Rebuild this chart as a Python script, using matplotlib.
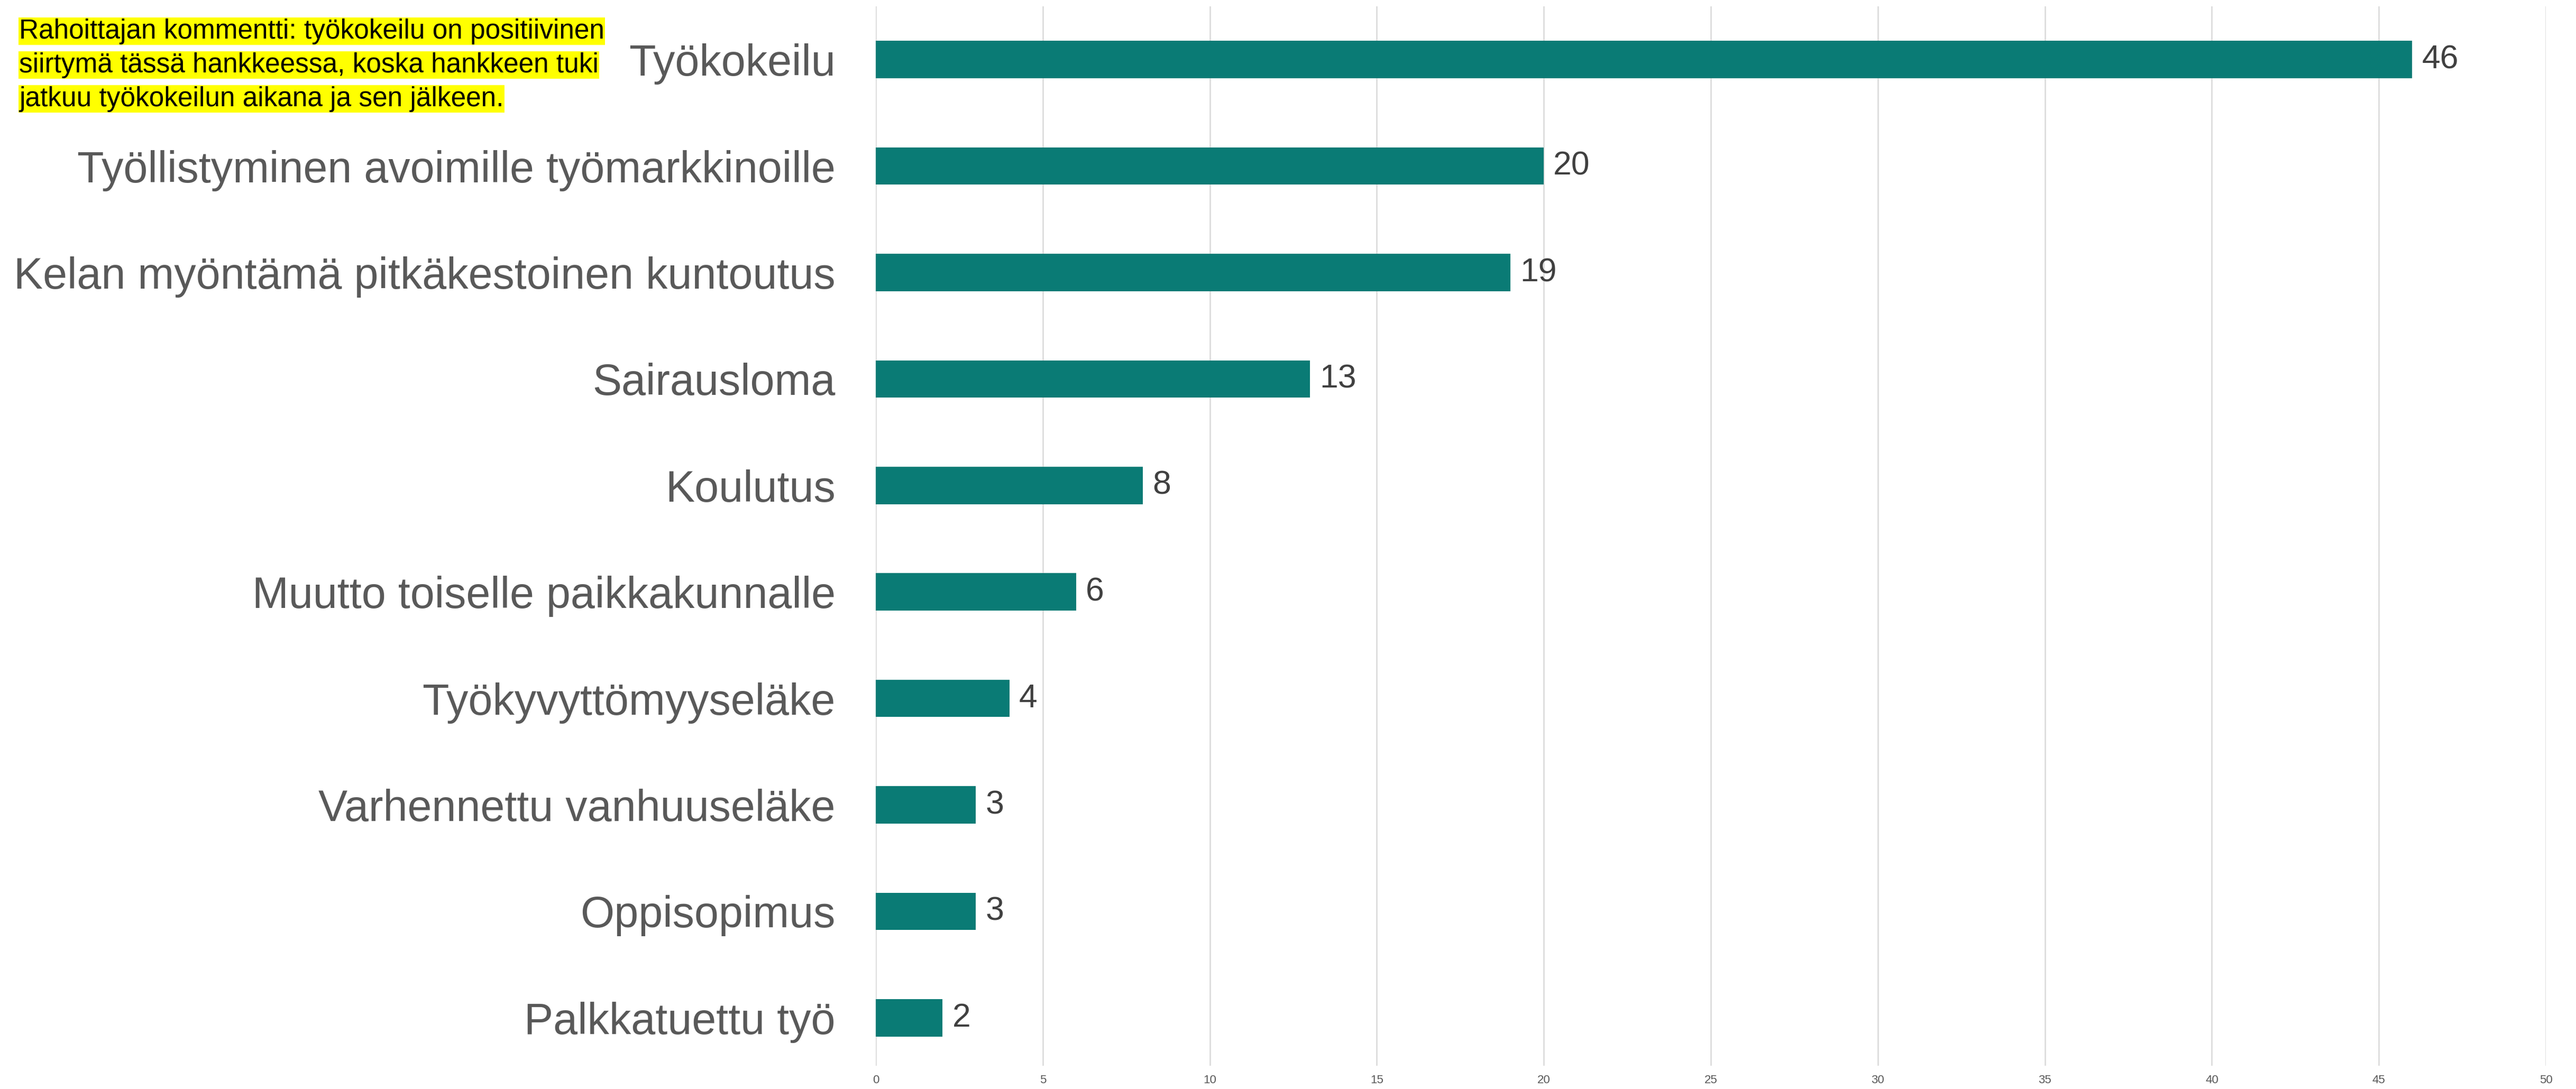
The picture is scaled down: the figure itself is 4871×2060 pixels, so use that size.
import matplotlib
matplotlib.use("Agg")
import matplotlib.pyplot as plt

# data, top to bottom as shown
categories = ["Työkokeilu", "Työllistyminen avoimille työmarkkinoille",
              "Kelan myöntämä pitkäkestoinen kuntoutus", "Sairausloma", "Koulutus",
              "Muutto toiselle paikkakunnalle", "Työkyvyttömyyseläke",
              "Varhennettu vanhuuseläke", "Oppisopimus", "Palkkatuettu työ"]
values = [46, 20, 19, 13, 8, 6, 4, 3, 3, 2]
x_ticks = list(range(0, 51, 5))
note_lines = ["Rahoittajan kommentti: työkokeilu on positiivinen",
              "siirtymä tässä hankkeessa, koska hankkeen tuki",
              "jatkuu työkokeilun aikana ja sen jälkeen."]

BAR = "#0a7b75"
GRID = "#d9d9d9"
LABEL = "#595959"
VALUE = "#404040"

plt.rcParams['font.family'] = ['Liberation Sans', 'DejaVu Sans']

W, H = 4871, 2060
fig = plt.figure(figsize=(W/100, H/100), dpi=100)
ax = fig.add_axes([1656/W, 1 - 2016/H, (4814-1656)/W, (2016-12)/H])

pos = list(range(len(categories)))
ax.barh(pos, values, height=0.35, color=BAR, zorder=3)
for y, v in zip(pos, values):
    ax.annotate(str(v), (v, y), xytext=(13, 0), textcoords='offset points',
                ha='left', va='center', fontsize=45, color=VALUE)

ax.set_xlim(0, 50)
ax.set_ylim(9.45, -0.5)
ax.set_xticks(x_ticks)
ax.set_yticks(pos)
ax.set_yticklabels(categories)
ax.tick_params(axis='y', length=0, pad=55, labelsize=59.5, labelcolor=LABEL)
ax.tick_params(axis='x', length=0, pad=12, labelsize=16, labelcolor=LABEL)
ax.grid(axis='x', color=GRID, lw=1.8, zorder=0)
ax.set_axisbelow(True)
for s in ax.spines.values():
    s.set_visible(False)

# per-line highlighted note
for i, line in enumerate(note_lines):
    fig.text(36/W, 1 - (59 + 64*i)/H, line, ha='left', va='center', fontsize=37,
             color='black', bbox=dict(boxstyle='square,pad=0.02', fc='#ffff00', ec='none'))

fig.savefig("out.png", dpi=100)
